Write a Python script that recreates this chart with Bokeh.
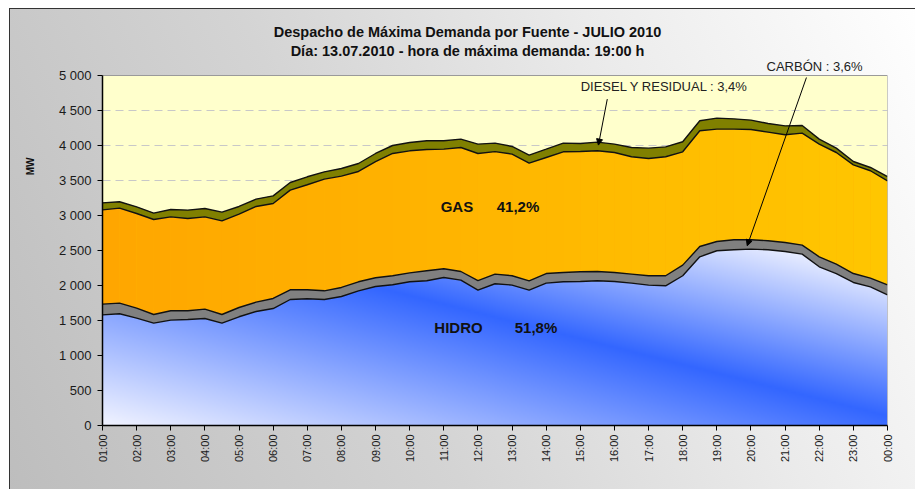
import numpy as np
from bokeh.plotting import figure
from bokeh.models import Range1d, FixedTicker, Label, Arrow, NormalHead, Title
from bokeh.embed import file_html
from bokeh.resources import INLINE

# ---------------- data ----------------
hour_labels = ["01:00", "02:00", "03:00", "04:00", "05:00", "06:00", "07:00", "08:00",
               "09:00", "10:00", "11:00", "12:00", "13:00", "14:00", "15:00", "16:00",
               "17:00", "18:00", "19:00", "20:00", "21:00", "22:00", "23:00", "00:00"]
y_tick_values = [0, 500, 1000, 1500, 2000, 2500, 3000, 3500, 4000, 4500, 5000]
y_tick_labels = ["0", "500", "1 000", "1 500", "2 000", "2 500", "3 000", "3 500",
                 "4 000", "4 500", "5 000"]

# MW per half hour, 01:00 ... 00:00
hidro = [1581, 1596, 1534, 1463, 1506, 1515, 1529, 1463, 1553, 1629, 1671, 1800, 1810,
         1800, 1843, 1924, 1986, 2010, 2053, 2067, 2114, 2077, 1934, 2025, 2006, 1934,
         2034, 2053, 2057, 2067, 2057, 2034, 2006, 1996, 2139, 2410, 2496, 2510, 2520,
         2510, 2486, 2449, 2267, 2171, 2043, 1981, 1867]
carbon = [153, 152, 143, 123, 133, 124, 133, 123, 133, 133, 144, 139, 129, 124, 129, 129,
          124, 129, 128, 143, 125, 123, 137, 138, 133, 133, 137, 133, 139, 133, 129, 129,
          133, 143, 152, 147, 133, 143, 133, 129, 128, 128, 143, 135, 128, 125, 143]
gas = [1347, 1357, 1352, 1357, 1342, 1318, 1319, 1338, 1334, 1367, 1356, 1423, 1500,
       1596, 1591, 1576, 1661, 1747, 1743, 1733, 1709, 1771, 1815, 1749, 1738, 1681,
       1658, 1724, 1718, 1724, 1714, 1676, 1675, 1700, 1619, 1653, 1605, 1581, 1576,
       1552, 1539, 1600, 1610, 1594, 1553, 1533, 1486]
diesel = [100, 91, 95, 91, 105, 120, 119, 124, 109, 105, 110, 109, 114, 104, 108, 114,
          115, 114, 119, 124, 119, 120, 134, 122, 109, 115, 119, 124, 115, 124, 120, 132,
          148, 142, 143, 143, 157, 147, 134, 123, 128, 109, 71, 62, 47, 47, 61]

title_1 = "Despacho de Máxima Demanda por Fuente - JULIO 2010"
title_2 = "Día: 13.07.2010 - hora de máxima demanda: 19:00 h"

# ---------------- stacking ----------------
n = len(hidro)
x = np.arange(n)
h_top = np.array(hidro, dtype=float)
c_top = h_top + np.array(carbon)
g_top = c_top + np.array(gas)
d_top = g_top + np.array(diesel)
Y_MAX = 5000
PX_PER_MW = 0.07
W, H = 915, 489
B_LEFT, B_RIGHT, B_BOTTOM = 102, 28, 64
Y_TOP = (H - B_BOTTOM) / PX_PER_MW   # frame extends up to canvas top (title area)

FONT = "Liberation Sans"

p = figure(width=W, height=H, output_backend="svg", toolbar_location=None,
           x_range=Range1d(0, n - 1), y_range=Range1d(0, Y_TOP),
           min_border_left=B_LEFT, min_border_right=B_RIGHT, min_border_top=0,
           min_border_bottom=B_BOTTOM,
           background_fill_color=None, border_fill_color=None,
           outline_line_color=None)
p.styles = {
    "background": ("linear-gradient(#333333,#333333) 9px 8px / 1px 100% no-repeat, "
                   "linear-gradient(#333333,#333333) 9px 8px / 100% 1px no-repeat, "
                   "linear-gradient(65deg, #bdbdbd 0%, #d4d4d4 40%, #ebebeb 70%, #ffffff 100%) "
                   "10px 9px / 100% 100% no-repeat, #ffffff"),
}

# hydro gradient texture (covers plot area, visible only where nothing is drawn above)
FW, FH = 785.0, 350.0
nx, ny = 393, 175
sx = (np.arange(nx) + 0.5) / nx * FW
sy = (np.arange(ny) + 0.5) / ny * FH
SX, SY = np.meshgrid(sx, sy)
ridge = 124.7 - 0.252 * (SX - 327.7)
dist = (SY - ridge) * 0.969
t = np.where(dist > 0, np.clip(dist / 150.0, 0, 1), np.clip(-dist / 210.0, 0, 1))
blue = np.array([51, 102, 255], dtype=float)
white = np.array([250, 250, 255], dtype=float)
rgb = blue + (white - blue) * t[..., None]
img = np.empty((ny, nx), dtype=np.uint32)
view = img.view(dtype=np.uint8).reshape((ny, nx, 4))
view[..., 0:3] = np.round(rgb).astype(np.uint8)
view[..., 3] = 255
p.image_rgba(image=[img], x=0, y=0, dw=n - 1, dh=Y_MAX, level="image")

# yellow above the stack
p.varea(x=x, y1=d_top, y2=Y_MAX, fill_color="#FFFFCC", level="image")

# grid only on the visible upper part
p.xgrid.visible = False
p.ygrid.ticker = FixedTicker(ticks=[3500, 4000, 4500])
p.ygrid.bounds = (0, n - 1)
p.ygrid.grid_line_color = "#c8c8c8"
p.ygrid.grid_line_dash = "8 5"
p.ygrid.grid_line_width = 1

# carbon band
p.varea(x=x, y1=h_top, y2=c_top, fill_color="#808080")

# gas: base + horizontal gradient slices
p.varea(x=x, y1=c_top, y2=g_top, fill_color="#FFB400")
c0 = np.array([255, 166, 0], dtype=float)
c1 = np.array([255, 198, 0], dtype=float)
for i in range(n - 1):
    f = (i + 0.5) / (n - 1)
    col = c0 + (c1 - c0) * f
    hexcol = "#%02x%02x%02x" % tuple(int(round(v)) for v in col)
    p.varea(x=[i, i + 1], y1=[c_top[i], c_top[i + 1]], y2=[g_top[i], g_top[i + 1]],
            fill_color=hexcol)

# diesel band
p.varea(x=x, y1=g_top, y2=d_top, fill_color="#808000")

for arr in (h_top, c_top, g_top, d_top):
    p.line(x=x, y=arr, line_color="#111111", line_width=1.4)

# plot-area border (top and right)
p.line(x=[0, n - 1, n - 1], y=[Y_MAX, Y_MAX, 0], line_color="#9a9a9a", line_width=1)

# ---------------- axes ----------------
p.xaxis.ticker = FixedTicker(ticks=list(range(0, n, 2)))
p.xaxis.major_label_overrides = {2 * k: lab for k, lab in enumerate(hour_labels)}
p.xaxis.major_label_orientation = np.pi / 2
p.yaxis.ticker = FixedTicker(ticks=y_tick_values)
p.yaxis.major_label_overrides = dict(zip(y_tick_values, y_tick_labels))
p.yaxis.bounds = (0, Y_MAX)
for ax in (p.xaxis[0], p.yaxis[0]):
    ax.axis_line_color = "#000000"
    ax.axis_line_width = 1.5
    ax.major_tick_line_color = "#000000"
    ax.major_tick_in = 0
    ax.major_tick_out = 5
    ax.minor_tick_line_color = None
    ax.major_label_text_font = FONT
    ax.major_label_text_color = "#1a1a1a"
p.xaxis.major_label_text_font_size = "11px"
p.xaxis.major_label_standoff = 4
p.yaxis.major_label_text_font_size = "13px"
p.yaxis.major_label_standoff = 6

p.add_layout(Title(text="MW", align="right", offset=157, standoff=40,
                   text_font=FONT, text_font_size="10px", text_font_style="bold",
                   text_color="#111111"), "left")


# ---------------- texts ----------------
def add_label(text, xx, yy, size, bold=False, align="center", angle=0.0, color="#111111"):
    p.add_layout(Label(x=xx, y=yy, text=text, text_font=FONT, text_font_size=size,
                       text_font_style="bold" if bold else "normal",
                       text_align=align, text_baseline="middle", angle=angle,
                       text_color=color))


add_label(title_1, 21.39, 5624, "14.5px", bold=True)
add_label(title_2, 21.39, 5353, "14.5px", bold=True)
add_label("GAS", 20.77, 3124, "15px", bold=True)
add_label("41,2%", 24.35, 3124, "15px", bold=True)
add_label("HIDRO", 20.86, 1396, "15px", bold=True)
add_label("51,8%", 25.40, 1396, "15px", bold=True)
add_label("DIESEL Y RESIDUAL : 3,4%", 28.02, 4843, "13px", align="left", color="#222222")
add_label("CARBÓN : 3,6%", 38.91, 5129, "13px", align="left", color="#222222")

p.add_layout(Arrow(end=NormalHead(size=6, fill_color="#000000", line_color="#000000"),
                   x_start=29.58, y_start=4663, x_end=29.06, y_end=4006,
                   line_color="#000000", line_width=1))
p.add_layout(Arrow(end=NormalHead(size=6, fill_color="#000000", line_color="#000000"),
                   x_start=41.25, y_start=4971, x_end=37.78, y_end=2567,
                   line_color="#000000", line_width=1))

open("out.html", "w").write(file_html(p, INLINE))
